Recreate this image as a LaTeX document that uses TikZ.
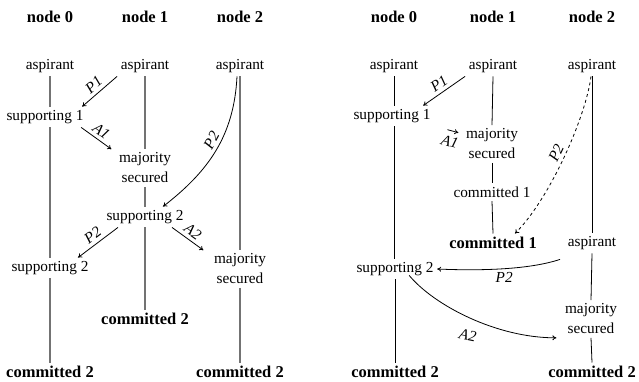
\documentclass[tikz,border=0pt]{standalone}
\usepackage{fontspec}
\setmainfont{Liberation Serif}
\usetikzlibrary{arrows.meta}
\newcommand{\statefont}{\fontsize{15.3}{20}\selectfont}
\newcommand{\headfont}{\fontsize{16.5}{20}\selectfont\bfseries}

\begin{document}
\begin{tikzpicture}[x=1pt, y=-1pt, font=\statefont, >={To[length=4pt, width=5pt]},
    st/.style={align=center, inner sep=3.5pt},
    hd/.style={st, font=\headfont},
    lbl/.style={font=\statefont\itshape, inner sep=3.5pt},
    lifeg/.style={draw=black!55, line width=1.2pt},
    lifek/.style={draw=black, line width=0.8pt},
    msg/.style={->, line width=0.8pt}]
    \useasboundingbox (0,0) rectangle (639,381);
    % left run: headers and states
    \node[hd] (l-h0) at (50,17) {node 0};
    \node[hd] (l-h1) at (145,17) {node 1};
    \node[hd] (l-h2) at (240,17) {node 2};
    \node[st] (l-a0) at (50,66) {aspirant};
    \node[st] (l-a1) at (145,66) {aspirant};
    \node[st] (l-a2) at (240,66) {aspirant};
    \node[st] (l-s1) at (45,117) {supporting 1};
    \node[st] (l-m1) at (145,168) {majority\\secured};
    \node[st] (l-s2b) at (145,217) {supporting 2};
    \node[st] (l-s2a) at (50,268) {supporting 2};
    \node[st] (l-m2) at (240,269) {majority\\secured};
    \node[hd] (l-c1) at (145,319) {committed 2};
    \node[hd] (l-c0) at (50,372) {committed 2};
    \node[hd] (l-c2) at (240,372) {committed 2};
    % left lifelines
    \draw[lifeg] (l-a0.south) -- (l-a0.south |- l-s1.north);
    \draw[lifeg] (l-a0 |- l-s1.south) -- (l-a0 |- l-s2a.north);
    \draw[lifeg] (l-s2a.south) -- (l-c0.north);
    \draw[lifeg] (l-a1.south) -- (l-m1.north);
    \draw[lifeg] (l-m1.south) -- (l-s2b.north);
    \draw[lifeg] (l-s2b.south) -- (l-c1.north);
    \draw[lifeg] (l-a2.south) -- (l-m2.north);
    \draw[lifeg] (l-m2.south) -- (l-c2.north);
    % left messages
    \draw[msg] (l-a1.south west) -- node[lbl, above, sloped] {P1} ([xshift=-5pt]l-s1.north east);
    \draw[msg] ([xshift=-6pt]l-s1.south east) -- node[lbl, above, sloped] {A1} ([xshift=-4pt]l-m1.north west);
    \draw[msg] ([xshift=-3pt]l-a2.south) .. controls +(-3,60) and +(45,-35) ..
        node[lbl, above, sloped, pos=0.45] {P2} ([xshift=18pt]l-s2b.north);
    \draw[msg] ([xshift=-27pt]l-s2b.south) -- node[lbl, above, sloped] {P2} ([xshift=28pt]l-s2a.north);
    \draw[msg] ([xshift=27pt]l-s2b.south) -- node[lbl, above, sloped] {A2} ([xshift=-7pt]l-m2.north west);
    % right run: headers and states
    \node[hd] (r-h0) at (394,17) {node 0};
    \node[hd] (r-h1) at (493,17) {node 1};
    \node[hd] (r-h2) at (592,17) {node 2};
    \node[st] (r-a0) at (394,66) {aspirant};
    \node[st] (r-a1) at (493,66) {aspirant};
    \node[st] (r-a2) at (592,66) {aspirant};
    \node[st] (r-s1) at (392,116) {supporting 1};
    \node[st] (r-m1) at (492,144) {majority\\secured};
    \node[st] (r-c1) at (492,192) {committed 1};
    \node[hd] (r-cb) at (493,243) {committed 1};
    \node[st] (r-a2b) at (592,243) {aspirant};
    \node[st] (r-s2) at (395,269) {supporting 2};
    \node[st] (r-m2) at (591,319) {majority\\secured};
    \node[hd] (r-c0) at (395,372) {committed 2};
    \node[hd] (r-c2) at (592,372) {committed 2};
    % right lifelines
    \draw[lifek] (r-a0.south) -- (r-a0.south |- r-s1.north);
    \draw[lifek] (r-a0 |- r-s1.south) -- (r-a0 |- r-s2.north);
    \draw[lifek] (r-s2.south) -- (r-c0.north);
    \draw[lifek] (r-a1.south) -- (r-m1.north);
    \draw[lifek] (r-m1.south) -- (r-c1.north);
    \draw[lifek] (r-c1.south) -- (r-cb.north);
    \draw[lifek] (r-a2.south) -- (r-a2b.north);
    \draw[lifek] (r-a2b.south) -- (r-m2.north);
    \draw[lifek] (r-m2.south) -- (r-c2.north);
    % right messages
    \draw[msg] (r-a1.south west) -- node[lbl, above, sloped] {P1} ([xshift=-11pt]r-s1.north east);
    \draw[msg] ([shift={(-15pt,-4.5pt)}]r-m1.north west) -- node[lbl, below=2pt, sloped] {A1} ([shift={(-4pt,-7.5pt)}]r-m1.north west);
    \draw[msg, dashed] ([xshift=-1pt]r-a2.south) .. controls +(-5,40) and +(35,-35) ..
        node[lbl, above, sloped, pos=0.5] {P2} ([xshift=22pt]r-cb.north);
    \draw[msg] ([shift={(-32pt,-6pt)}]r-a2b.south) .. controls +(-30,10) and +(45,2) ..
        node[lbl, below, pos=0.5] {P2} (r-s2.east);
    \draw[msg] ([shift={(-28pt,4pt)}]r-s2.south east) .. controls +(25,30) and +(-60,0) ..
        node[lbl, below=9pt, pos=0.5, rotate=-12] {A2} ([xshift=-5pt]r-m2.south west);
\end{tikzpicture}
\end{document}
